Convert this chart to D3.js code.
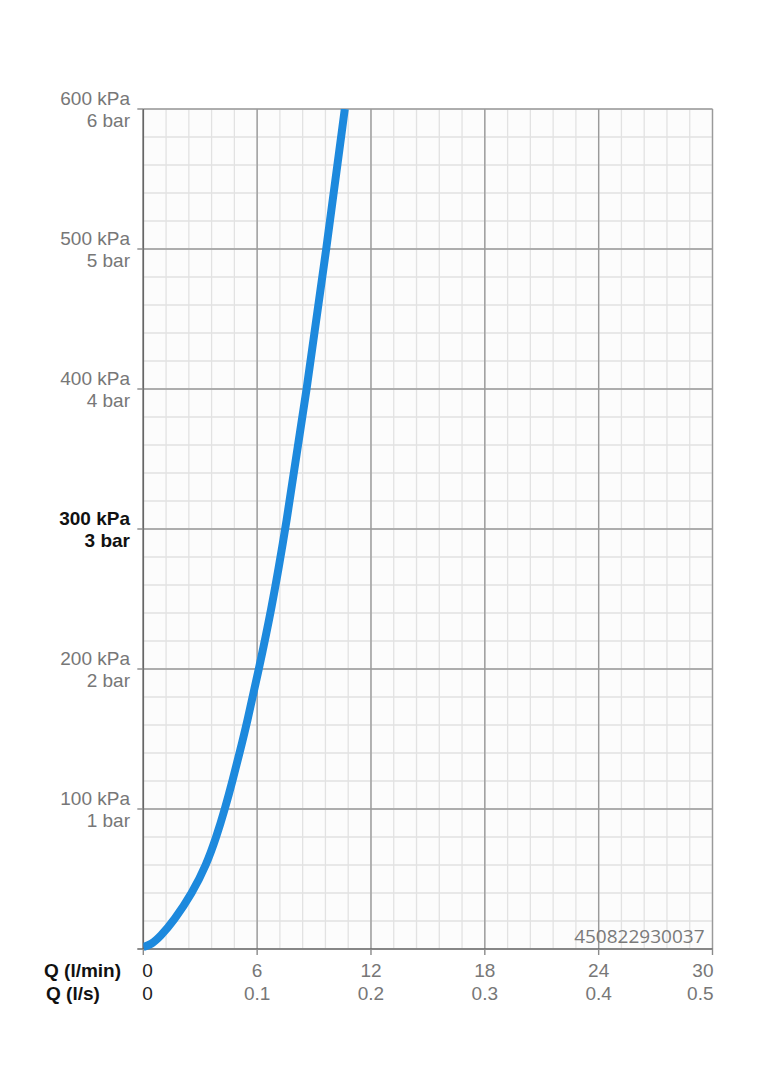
<!DOCTYPE html>
<html>
<head>
<meta charset="utf-8">
<script src="https://cdn.jsdelivr.net/npm/d3@7"></script>
<style>
  html, body { margin: 0; padding: 0; background: #ffffff; }
  svg { display: block; }
</style>
</head>
<body>
<svg id="chart" width="764" height="1080"></svg>
<script>
// ---- data ----
const flowLpm = [0, 0.4, 0.9, 1.6, 2.58, 3.32, 3.85, 4.3, 4.7, 5.07, 5.44, 6.09, 6.72, 7.5, 8.62, 9.65, 10.62];
const pressureKpa = [1.5, 3, 9, 20, 40, 60, 80, 100, 120, 140, 160, 200, 240, 300, 400, 500, 600];

const xTicksLpm = [0, 6, 12, 18, 24, 30];
const xTicksLps = ["0", "0.1", "0.2", "0.3", "0.4", "0.5"];
const yTicksKpa = [100, 200, 300, 400, 500, 600];
const yLabelKpa = ["100 kPa", "200 kPa", "300 kPa", "400 kPa", "500 kPa", "600 kPa"];
const yLabelBar = ["1 bar", "2 bar", "3 bar", "4 bar", "5 bar", "6 bar"];
const rowLabels = ["Q (l/min)", "Q (l/s)"];
const codeLabel = "450822930037";

// ---- layout ----
const svg = d3.select("#chart");
const pLeft = 143.3, pRight = 712.5, pTop = 109, pBottom = 949;
const x = d3.scaleLinear().domain([0, 30]).range([pLeft, pRight]);
const y = d3.scaleLinear().domain([0, 600]).range([pBottom, pTop]);
const font = "'Liberation Sans', Arial, Helvetica, sans-serif";

// background
svg.append("rect").attr("x", pLeft).attr("y", pTop)
  .attr("width", pRight - pLeft).attr("height", pBottom - pTop)
  .attr("fill", "#fcfcfc");

// minor grid
const g = svg.append("g");
g.selectAll("line.vminor").data(d3.range(0, 30.001, 1.2)).join("line")
  .attr("x1", d => x(d)).attr("x2", d => x(d))
  .attr("y1", pTop).attr("y2", pBottom)
  .attr("stroke", "#e2e2e2").attr("stroke-width", 1.3);
g.selectAll("line.hminor").data(d3.range(0, 600.001, 20)).join("line")
  .attr("y1", d => y(d)).attr("y2", d => y(d))
  .attr("x1", pLeft).attr("x2", pRight)
  .attr("stroke", "#e2e2e2").attr("stroke-width", 1.3);

// major grid
g.selectAll("line.vmajor").data(xTicksLpm).join("line")
  .attr("x1", d => x(d)).attr("x2", d => x(d))
  .attr("y1", pTop).attr("y2", pBottom)
  .attr("stroke", "#9a9a9a").attr("stroke-width", 1.4);
g.selectAll("line.hmajor").data(yTicksKpa).join("line")
  .attr("y1", d => y(d)).attr("y2", d => y(d))
  .attr("x1", pLeft).attr("x2", pRight)
  .attr("stroke", "#9a9a9a").attr("stroke-width", 1.4);

// axes lines
svg.append("line").attr("x1", pLeft).attr("x2", pLeft).attr("y1", pTop).attr("y2", pBottom)
  .attr("stroke", "#666").attr("stroke-width", 1.6);
svg.append("line").attr("x1", pLeft - 6).attr("x2", pRight).attr("y1", pBottom).attr("y2", pBottom)
  .attr("stroke", "#666").attr("stroke-width", 1.6);

// tick marks
svg.selectAll("line.ytick").data(yTicksKpa).join("line")
  .attr("x1", pLeft - 6).attr("x2", pLeft)
  .attr("y1", d => y(d)).attr("y2", d => y(d))
  .attr("stroke", "#8a8a8a").attr("stroke-width", 1.4);
svg.selectAll("line.xtick").data(xTicksLpm).join("line")
  .attr("x1", d => x(d)).attr("x2", d => x(d))
  .attr("y1", pBottom).attr("y2", pBottom + 6)
  .attr("stroke", "#8a8a8a").attr("stroke-width", 1.4);

// watermark code
svg.append("text").attr("x", pRight - 8).attr("y", 943)
  .attr("text-anchor", "end")
  .attr("font-family", "'Open Sans', 'Noto Sans', sans-serif")
  .attr("font-size", 19).attr("fill", "#7a7a7a")
  .text(codeLabel);

// curve
svg.append("clipPath").attr("id", "plotclip").append("rect")
  .attr("x", pLeft).attr("y", pTop).attr("width", pRight - pLeft).attr("height", pBottom - pTop + 10);
const pts = flowLpm.map((q, i) => [q, pressureKpa[i]]);
const line = d3.line().x(d => x(d[0])).y(d => y(d[1])).curve(d3.curveBasis);
svg.append("path").datum(pts)
  .attr("d", line)
  .attr("clip-path", "url(#plotclip)")
  .attr("fill", "none")
  .attr("stroke", "#1d89dd")
  .attr("stroke-width", 8)
  .attr("stroke-linecap", "butt");

// y labels
const yl = svg.append("g").attr("font-family", font).attr("font-size", 19).attr("text-anchor", "end");
yTicksKpa.forEach((v, i) => {
  const bold = v === 300;
  const col = bold ? "#111" : "#777";
  const fw = bold ? "bold" : "normal";
  yl.append("text").attr("x", 130).attr("y", y(v) - 4).attr("fill", col).attr("font-weight", fw).text(yLabelKpa[i]);
  yl.append("text").attr("x", 130).attr("y", y(v) + 18).attr("fill", col).attr("font-weight", fw).text(yLabelBar[i]);
});

// x labels
const xl = svg.append("g").attr("font-family", font).attr("font-size", 19);
xTicksLpm.forEach((v, i) => {
  const anchor = i === 0 ? "start" : (i === xTicksLpm.length - 1 ? "end" : "middle");
  const px = i === 0 ? x(v) - 1 : (i === xTicksLpm.length - 1 ? x(v) + 1 : x(v));
  const col = i === 0 ? "#222" : "#777";
  xl.append("text").attr("x", px).attr("y", 977).attr("text-anchor", anchor).attr("fill", col).text(String(v));
  xl.append("text").attr("x", px).attr("y", 999.5).attr("text-anchor", anchor).attr("fill", col).text(xTicksLps[i]);
});

// row labels
svg.append("text").attr("x", 44).attr("y", 977).attr("font-family", font).attr("font-size", 19)
  .attr("font-weight", "bold").attr("fill", "#111").text(rowLabels[0]);
svg.append("text").attr("x", 46).attr("y", 999.5).attr("font-family", font).attr("font-size", 19)
  .attr("font-weight", "bold").attr("fill", "#111").text(rowLabels[1]);
</script>
</body>
</html>
